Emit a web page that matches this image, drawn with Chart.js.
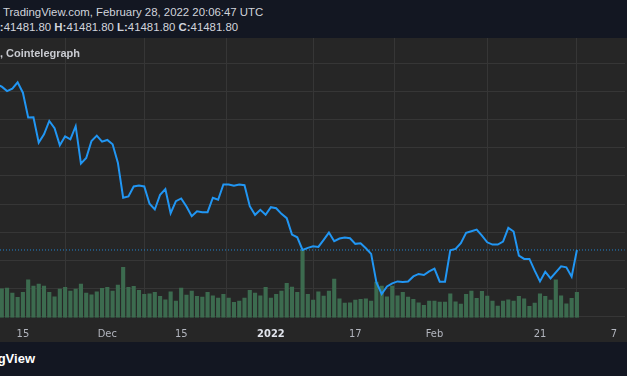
<!DOCTYPE html>
<html lang="en">
<head>
<meta charset="UTF-8">
<title>BTCUSD 1D - TradingView snapshot</title>
<script src="https://cdn.jsdelivr.net/npm/chart.js@4.4.1/dist/chart.umd.min.js"></script>
<style>
    html, body { margin: 0; padding: 0; }
    body {
        width: 627px;
        height: 376px;
        overflow: hidden;
        position: relative;
        background: #262626;
        font-family: 'Liberation Sans', Arial, sans-serif;
    }
    .header {
        position: absolute; left: 0; top: 0;
        width: 627px; height: 38px;
        background: #131722; color: #d1d4dc;
        font-size: 11.4px; z-index: 3;
    }
    .header div { position: absolute; white-space: nowrap; }
    .header .l1 { left: 3px; top: 6px; }
    .header .l2 { left: -9px; top: 21px; }
    .chart-box {
        position: absolute; left: 0; top: 38px;
        width: 627px; height: 313px;
        background: #262626;
    }
    .symbol {
        position: absolute; left: 0; top: 47px;
        color: #c9cbd1; font-weight: bold; font-size: 11px;
        white-space: nowrap; z-index: 2;
    }
    .footer {
        position: absolute; left: 0; top: 342px;
        width: 627px; height: 34px;
        background: #131722; z-index: 3;
    }
    .footer span {
        position: absolute; right: 592px; top: 9px;
        color: #ffffff; font-weight: bold; font-size: 13px;
        white-space: nowrap;
    }
</style>
</head>
<body>
    <div class="header">
        <div class="l1">TradingView.com, February 28, 2022 20:06:47 UTC</div>
        <div class="l2"><b>O:</b>41481.80 <b>H:</b>41481.80 <b>L:</b>41481.80 <b>C:</b>41481.80</div>
    </div>
    <div class="chart-box"><canvas id="btcChart"></canvas></div>
    <div class="symbol">, Cointelegraph</div>
    <div class="footer"><span>TradingView</span></div>

<script>
    // daily closes, first one is 2021-11-10, last is 2022-02-28
    const firstDate = '2021-11-10';
    const closes = [
        65010, 64660, 64020, 64370, 65260, 63800, 60280, 60320, 56720, 57900,
        59790, 58750, 56330, 57610, 57190, 59040, 53730, 54530, 56950, 57710,
        56860, 57090, 56480, 53870, 48890, 49080, 50500, 50640, 50500, 48040,
        47230, 49320, 50120, 46700, 48410, 48790, 47650, 46270, 46980, 46840,
        46840, 48890, 48610, 50780, 50780, 50600, 50780, 50680, 47700, 46470,
        47180, 46470, 47550, 47410, 46610, 45990, 43670, 43280, 41490, 41780,
        42000, 41920, 42910, 43950, 42720, 43100, 43240, 43140, 42350, 42430,
        41720, 40920, 36880, 35230, 36310, 36740, 37020, 36940, 37020, 37730,
        38080, 37930, 38450, 38830, 36980, 36980, 41430, 41630, 42430, 43910,
        44140, 44380, 43530, 42570, 42250, 42250, 42670, 44620, 44100, 40680,
        40210, 40210, 38550, 37020, 38400, 37450, 38300, 39160, 39020, 37690, 41481.8
    ];
    // volume (thousands)
    const volumes = [
        30, 29.3, 30, 25, 20.7, 25.7, 38.3, 32, 34, 32,
        25.7, 21.3, 29, 30.7, 27, 29, 34, 25, 23.3, 26.3,
        29.7, 30.7, 27, 33, 50.7, 30.7, 31.7, 27.7, 23.7, 24.3,
        25.7, 21.7, 18.3, 26.3, 17, 30, 23, 27, 21.7, 21,
        25.7, 22.3, 20, 23.7, 20, 15.7, 17, 20, 27.7, 25,
        22.3, 30.7, 20, 23.7, 27, 34.7, 31, 25.7, 68, 23.7,
        18, 26.3, 22, 27, 39, 19.3, 15, 15.3, 18, 18.7,
        19.3, 17, 36, 32, 21.3, 32, 22.3, 25.7, 21, 18.7,
        15.3, 12.7, 17, 17, 16, 16, 24.3, 16.3, 14, 23.7,
        27, 19.7, 26.7, 22, 17, 12, 17, 18.3, 17, 21.7,
        19.3, 11.7, 15, 24.3, 21.7, 18, 38.3, 22.3, 14.3, 19.7, 25.7
    ];
    const lastPrice = 41481.80;

    const tickDates = ['2021-11-15', '2021-12-01', '2021-12-15', '2022-01-01',
                       '2022-01-17', '2022-02-01', '2022-02-21', '2022-03-07'];
    const tickLabels = ['15', 'Dec', '15', '2022', '17', 'Feb', '21', '7'];
    const priceGrid = [32000, 36000, 40000, 44000, 48000, 52000, 56000, 60000, 64000, 68000];

    // x is "days since 2021-11-01"
    const origin = Date.UTC(2021, 10, 1);
    const dayNum = s => (Date.parse(s + 'T00:00:00Z') - origin) / 86400000;
    const start = dayNum(firstDate);
    const xs = closes.map((_, i) => start + i);
    const tickDays = tickDates.map(dayNum);

    // visible window of the snapshot
    const xMin = 9.66, xMax = 128.08;
    const priceMin = 31858, priceMax = 71559;

    const axisFont = "'Liberation Sans Narrow', 'DejaVu Sans Condensed', 'Liberation Sans', sans-serif";
    const isYear = i => /^\d{4}$/.test(tickLabels[i]);

    const ctx = document.getElementById('btcChart').getContext('2d');
    new Chart(ctx, {
        type: 'line',
        data: {
            datasets: [
                {
                    type: 'line',
                    data: xs.map((x, i) => ({ x: x, y: closes[i] })),
                    borderColor: '#2196f3',
                    borderWidth: 2,
                    pointRadius: 0,
                    tension: 0,
                    yAxisID: 'y',
                    order: 0
                },
                {
                    type: 'line',
                    data: [{ x: xMin, y: lastPrice }, { x: xMax, y: lastPrice }],
                    borderColor: 'rgba(33, 150, 243, 0.85)',
                    borderWidth: 1,
                    borderDash: [1, 2],
                    pointRadius: 0,
                    yAxisID: 'y',
                    order: 1
                },
                {
                    type: 'bar',
                    data: xs.map((x, i) => ({ x: x, y: volumes[i] })),
                    backgroundColor: '#3c6b4f',
                    barPercentage: 1,
                    categoryPercentage: 0.78,
                    yAxisID: 'vol',
                    order: 2
                }
            ]
        },
        options: {
            responsive: true,
            maintainAspectRatio: false,
            animation: false,
            layout: { padding: 0 },
            plugins: {
                legend: { display: false },
                tooltip: { enabled: false }
            },
            scales: {
                x: {
                    type: 'linear',
                    min: xMin,
                    max: xMax,
                    offset: false,
                    afterBuildTicks: s => { s.ticks = tickDays.map(v => ({ value: v })); },
                    grid: { color: '#363636', drawTicks: false },
                    border: { display: false },
                    ticks: {
                        autoSkip: false,
                        maxRotation: 0,
                        padding: 10,
                        color: c => isYear(c.index) ? '#e0e3eb' : '#b2b5be',
                        font: c => ({
                            family: axisFont,
                            size: 11,
                            weight: isYear(c.index) ? 'bold' : 'normal'
                        }),
                        callback: (v, i) => tickLabels[i]
                    }
                },
                y: {
                    position: 'right',
                    min: priceMin,
                    max: priceMax,
                    afterBuildTicks: s => { s.ticks = priceGrid.map(v => ({ value: v })); },
                    grid: { color: '#363636', drawTicks: false },
                    border: { display: false },
                    ticks: { display: false }
                },
                vol: {
                    display: false,
                    min: 0,
                    max: 279
                }
            }
        }
    });
</script>
</body>
</html>
